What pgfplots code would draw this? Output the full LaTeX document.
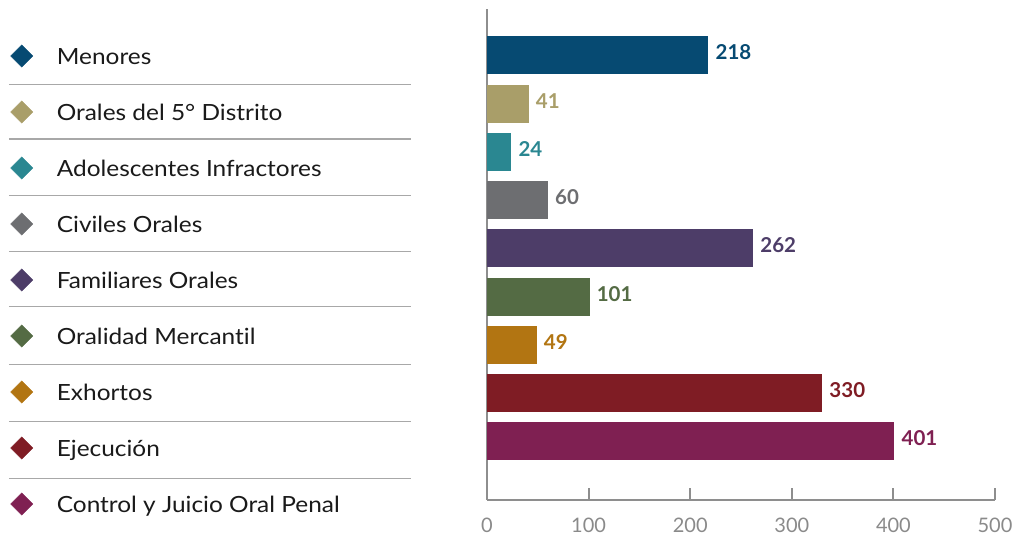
\documentclass[border=0pt]{standalone}
\usepackage{pgfplots}
\pgfplotsset{compat=1.18}
\usepackage{fontspec}
\setmainfont{Lato}
\newfontfamily\legfont{Lato}[FakeStretch=1.095, Ligatures={NoCommon}]
\definecolor{cMen}{HTML}{064A72}
\definecolor{cOra}{HTML}{A99E69}
\definecolor{cAdo}{HTML}{2A8791}
\definecolor{cCiv}{HTML}{6D6E71}
\definecolor{cFam}{HTML}{4D3D68}
\definecolor{cMer}{HTML}{546B44}
\definecolor{cExh}{HTML}{B27512}
\definecolor{cEje}{HTML}{7F1C24}
\definecolor{cCon}{HTML}{7F2052}
\definecolor{axisgray}{HTML}{8E8E8E}
\definecolor{tickgray}{HTML}{8A8A8A}
\definecolor{sepgray}{HTML}{A8A8A8}
\definecolor{legtext}{HTML}{1A1A1A}
\begin{document}
\begin{tikzpicture}[x=1pt,y=1pt]
\useasboundingbox (0,0) rectangle (1012,536);
% ---------- bar axis ----------
\begin{axis}[
  at={(487pt,36.3pt)}, anchor=south west,
  scale only axis, width=508pt, height=490.4pt,
  xmin=0, xmax=500, ymin=0.047, ymax=10.207, y dir=reverse,
  axis x line*=bottom, axis y line*=left,
  axis line style={draw=axisgray, line width=2pt},
  xtick={0,100,200,300,400,500}, ytick=\empty,
  tick align=inside, major tick length=12pt,
  tick style={draw=axisgray, line width=2pt},
  xticklabel style={font=\fontsize{20}{24}\selectfont, text=tickgray, anchor=north, inner sep=0pt, yshift=-18pt},
  /pgf/number format/assume math mode=true,
  xbar, bar width=0.787, bar shift=0pt,
  nodes near coords,
  every node near coord/.append style={font=\fontsize{20.5}{24}\selectfont\bfseries, anchor=base west, inner sep=0pt, xshift=7pt, yshift=-4.5pt},
  clip=false,
]
\addplot[fill=cMen, draw=none, every node near coord/.append style={text=cMen}] coordinates {(218,1)};
\addplot[fill=cOra, draw=none, every node near coord/.append style={text=cOra}] coordinates {(41,2)};
\addplot[fill=cAdo, draw=none, every node near coord/.append style={text=cAdo}] coordinates {(24,3)};
\addplot[fill=cCiv, draw=none, every node near coord/.append style={text=cCiv}] coordinates {(60,4)};
\addplot[fill=cFam, draw=none, every node near coord/.append style={text=cFam}] coordinates {(262,5)};
\addplot[fill=cMer, draw=none, every node near coord/.append style={text=cMer}] coordinates {(101,6)};
\addplot[fill=cExh, draw=none, every node near coord/.append style={text=cExh}] coordinates {(49,7)};
\addplot[fill=cEje, draw=none, every node near coord/.append style={text=cEje}] coordinates {(330,8)};
\addplot[fill=cCon, draw=none, every node near coord/.append style={text=cCon}] coordinates {(401,9)};
\end{axis}
% ---------- legend axis ----------
\begin{axis}[
  at={(9pt,4pt)}, anchor=south west,
  scale only axis, width=402pt, height=504pt,
  xmin=9, xmax=411, ymin=0.5, ymax=9.5, y dir=reverse,
  axis line style={draw=none},
  xtick=\empty,
  ytick={1.505,2.482,3.495,4.495,5.477,6.505,7.530,8.548},
  yticklabels={}, major tick length=0pt,
  ymajorgrids, grid style={draw=sepgray, line width=1.5pt},
  clip=false,
  legmark/.style={only marks, color=#1, mark=square*, mark size=7.9pt, mark options={rotate=45, fill=#1, draw=#1, line width=0.3pt}},
  every node near coord/.append style={font=\legfont\fontsize{22.3}{26}\selectfont, text=legtext, anchor=base west, inner sep=0pt, xshift=35pt, yshift=-8pt},
]
\addplot[legmark=cMen, nodes near coords={Menores}] coordinates {(21.7,1)};
\addplot[legmark=cOra, nodes near coords={Orales del 5° Distrito}] coordinates {(21.7,2)};
\addplot[legmark=cAdo, nodes near coords={Adolescentes Infractores}] coordinates {(21.7,3)};
\addplot[legmark=cCiv, nodes near coords={Civiles Orales}] coordinates {(21.7,4)};
\addplot[legmark=cFam, nodes near coords={Familiares Orales}] coordinates {(21.7,5)};
\addplot[legmark=cMer, nodes near coords={Oralidad Mercantil}] coordinates {(21.7,6)};
\addplot[legmark=cExh, nodes near coords={Exhortos}] coordinates {(21.7,7)};
\addplot[legmark=cEje, nodes near coords={Ejecución}] coordinates {(21.7,8)};
\addplot[legmark=cCon, nodes near coords={Control y Juicio Oral Penal}] coordinates {(21.7,9)};
\end{axis}
\end{tikzpicture}
\end{document}
